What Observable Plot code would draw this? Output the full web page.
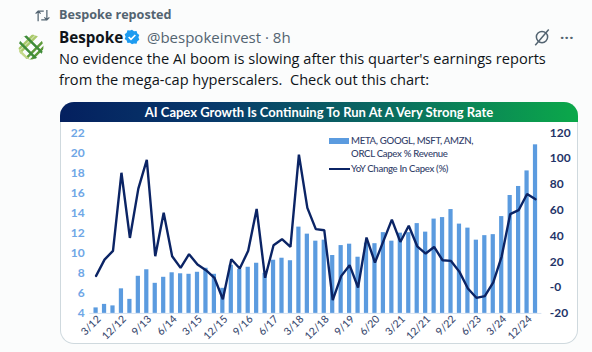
<!DOCTYPE html>
<html><head><meta charset="utf-8">
<script src="https://cdn.jsdelivr.net/npm/d3@7"></script>
<script src="https://cdn.jsdelivr.net/npm/@observablehq/plot@0.6"></script>
<style>
html,body{margin:0;padding:0;background:#fbfcfc;width:592px;height:352px;overflow:hidden}
body{position:relative;font-family:"Open Sans","Noto Sans",sans-serif;color:#0f1419}
.a{position:absolute;white-space:nowrap}
#card{position:absolute;left:60px;top:102px;width:518px;height:242px;background:#fff;border:1px solid #cfd9de;border-top:0;box-sizing:border-box;border-radius:14px}
#head{position:absolute;left:-1px;right:-1px;top:0;height:20px;border-radius:14px 14px 0 0;background:linear-gradient(90deg,#04205f 0%,#083a6b 30%,#0a6a60 62%,#0ba84a 100%);color:#fff;font:700 13px Lato,sans-serif;text-align:center;line-height:21px}
#plot{position:absolute;left:-1px;top:20px}
#plot svg{display:block;background:transparent}
.leg{position:absolute;font:500 9.6px Lato,sans-serif;letter-spacing:-.3px;color:#33416a;white-space:nowrap;line-height:12px}
</style></head><body>
<svg class="a" style="left:35px;top:8px" width="15" height="15" viewBox="0 0 24 24" fill="none" stroke="#536471" stroke-width="2"><path d="M5 21V5M1 9l4-4 4 4M5 5h9M19 3v16M15 15l4 4 4-4M19 19h-9"/></svg>
<div class="a" style="left:59px;top:6px;font-size:12.6px;font-weight:700;color:#536471">Bespoke reposted</div>
<svg class="a" style="left:18px;top:34px" width="26" height="26" viewBox="0 0 24 24">
<defs><clipPath id="c"><circle cx="12" cy="12" r="11.5"/></clipPath></defs>
<g clip-path="url(#c)" fill="none" stroke-width="2.300">
<path stroke="#a9c96b" d="M-2 8L10-4M1 14L15 0M-2 21L21-2"/>
<path stroke="#5d9a3a" d="M3 27L27 3M9 27L27 9M15 29L29 15"/>
<path stroke="#3f8c3a" d="M-2 4L20 26M4-1L25 20"/>
<path stroke="#c4d98a" d="M-3 11L14 28"/>
</g></svg>
<div class="a" style="left:59px;top:27px;font-size:15.200px;font-weight:700;color:#0f1419;line-height:20px">Bespoke</div>
<svg class="a" style="left:124px;top:29px" width="16" height="16" viewBox="0 0 24 24"><path fill="#1d9bf0" d="M12 1l3 2.400 3.800-.4 1.200 3.600 3 2.400-1.400 3.500 1.400 3.500-3 2.400-1.200 3.600-3.800-.4L12 23l-3-2.400-3.800.4L4 17.400 1 15l1.400-3.500L1 8l3-2.400L5.200 2l3.800.4z"/><path d="M7 12l3.500 3.500L17 9" fill="none" stroke="#fff" stroke-width="2.400"/></svg>
<div class="a" style="left:147px;top:27px;font-size:15px;color:#536471;line-height:20px">@bespokeinvest · 8h</div>
<svg class="a" style="left:533px;top:28px" width="18" height="18" viewBox="0 0 24 24" fill="none" stroke="#536471" stroke-width="2"><circle cx="12" cy="12" r="7.500"/><path d="M3 23L21 2"/></svg>
<div class="a" style="left:560px;top:27px;font-size:15px;font-weight:700;color:#536471;letter-spacing:.3px;line-height:20px">···</div>
<div class="a" style="left:59px;top:48px;font-size:14.600px;line-height:21px;color:#0f1419">No evidence the AI boom is slowing after this quarter's earnings reports<br>from the mega-cap hyperscalers.&nbsp; Check out this chart:</div>
<div id="card">
<div id="head">AI Capex Growth Is Continuing To Run At A Very Strong Rate</div>
<div id="plot"></div>
<div class="leg" style="left:290px;top:33px">META, GOOGL, MSFT, AMZN,</div>
<div class="leg" style="left:290px;top:46px">ORCL Capex % Revenue</div>
<div class="leg" style="left:290px;top:61px">YoY Change In Capex (%)</div>
<div style="position:absolute;left:268px;top:36px;width:20px;height:6px;background:#5b9bdf"></div>
<div style="position:absolute;left:268px;top:66px;width:21px;height:2px;background:#0b2465"></div>
</div>
<script>
const quarters = ["3/12","6/12","9/12","12/12","3/13","6/13","9/13","12/13","3/14","6/14","9/14","12/14","3/15","6/15","9/15","12/15","3/16","6/16","9/16","12/16","3/17","6/17","9/17","12/17","3/18","6/18","9/18","12/18","3/19","6/19","9/19","12/19","3/20","6/20","9/20","12/20","3/21","6/21","9/21","12/21","3/22","6/22","9/22","12/22","3/23","6/23","9/23","12/23","3/24","6/24","9/24","12/24","3/25"];
const capexPctRevenue = [4.55,4.9,4.75,6.45,5.4,7.7,8.35,7.0,7.6,8.05,7.95,7.9,8.1,8.5,7.9,6.5,8.8,8.4,8.6,9.0,8.0,9.3,9.5,9.25,12.6,11.9,11.2,11.3,9.77,10.76,10.9,9.6,11.0,10.95,12.05,11.2,12.0,12.05,12.95,12.1,13.4,13.55,14.35,12.9,12.5,11.3,11.75,11.85,13.65,15.75,16.65,18.2,20.8];
const yoyChange = [9.1,21.7,28.5,89,38.5,76.7,99,24.3,58,24.3,15.3,25.9,17.9,13.5,7.6,-9,22,14.8,28.5,61,7.6,32.8,37.5,31.5,103,61.8,45.3,44.5,-9.7,8.9,17.4,0.1,38.8,19.4,36,52.7,35.4,48,32,26.4,31.5,21.2,20.7,12.2,-0.7,-7.9,-6.6,4,24.3,56.9,60,72.6,68.5];
const xLabels = ["3/12","12/12","9/13","6/14","3/15","12/15","9/16","6/17","3/18","12/18","9/19","6/20","3/21","12/21","9/22","6/23","3/24","12/24"];
const leftTicks = [4,6,8,10,12,14,16,18,20,22];
const rightTicks = [-20,0,20,40,60,80,100,120];

const toLeft = v => 4 + (v + 20) * 18 / 140;
const toRight = l => Math.round((l - 4) * 140 / 18 - 20);

const chart = Plot.plot({
  width: 518, height: 222,
  marginTop: 10.3, marginBottom: 30.7, marginLeft: 29.3, marginRight: 35.7,
  style: {background: "transparent", fontFamily: "Lato, sans-serif", overflow: "visible"},
  x: {type: "band", domain: quarters, padding: 0.5, round: false},
  y: {domain: [4, 22], range: [191.3, 10.3]},
  marks: [
    Plot.barY(quarters, {x: d => d, y1: 4, y2: (d, i) => capexPctRevenue[i], fill: "#5b9bdf"}),
    Plot.ruleY([4], {stroke: "#d5e2f2", strokeWidth: 1}),
    Plot.lineY(quarters, {x: d => d, y: (d, i) => toLeft(yoyChange[i]), stroke: "#0b2465", strokeWidth: 2.4, strokeLinejoin: "miter", curve: "linear"}),
    Plot.axisX({ticks: xLabels, tickSize: 0, tickPadding: 4, tickRotate: -45, label: null, fontSize: 10.5, fontWeight: 500, color: "#3a4a70", textAnchor: "end", dx: 3, dy: 0}),
    Plot.axisY({ticks: leftTicks, anchor: "left", tickSize: 0, tickPadding: 5, label: null, fontSize: 12, fontWeight: 700, color: "#6ea6e6"}),
    Plot.axisY({ticks: rightTicks.map(toLeft), anchor: "right", tickFormat: toRight, tickSize: 0, tickPadding: 8, label: null, fontSize: 12, fontWeight: 700, color: "#1f3468"})
  ]
});
document.getElementById("plot").append(chart);
</script>
</body></html>
